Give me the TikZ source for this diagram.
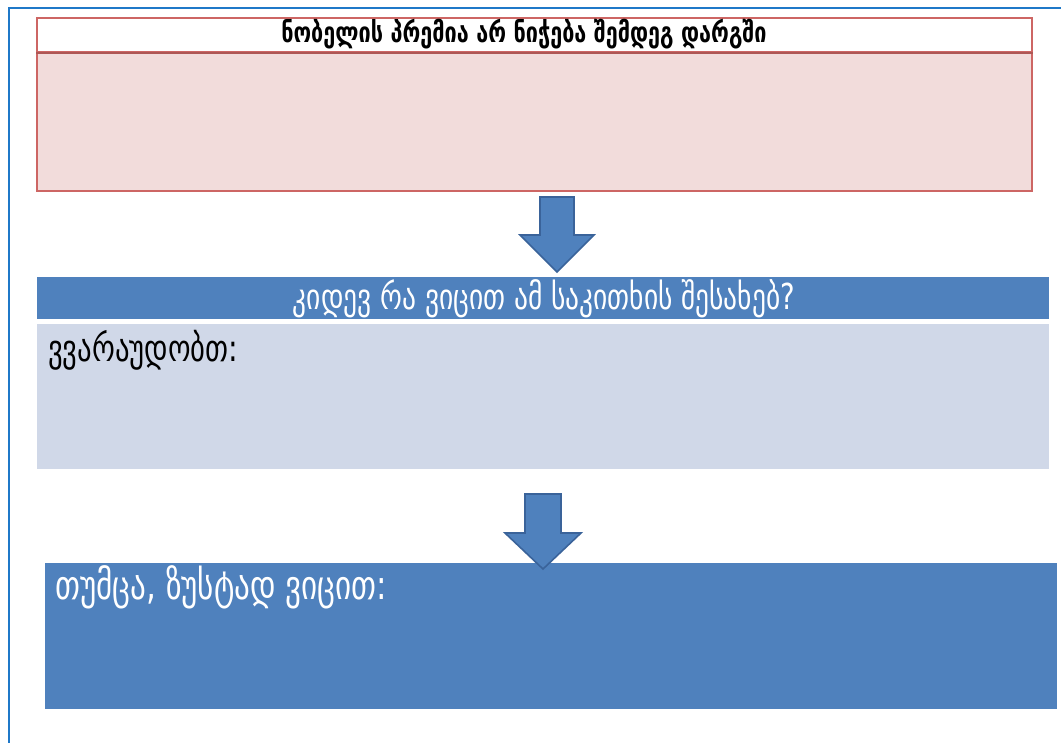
\documentclass[tikz,border=0pt]{standalone}
\usepackage{fontspec}
\newfontfamily\geo{DejaVu Sans}
\definecolor{frameblue}{HTML}{1F78C8}
\definecolor{pinkfill}{HTML}{F2DCDB}
\definecolor{redline}{HTML}{CD6664}
\definecolor{midblue}{HTML}{4F81BD}
\definecolor{darkblue}{HTML}{3A639A}
\definecolor{paleblue}{HTML}{D0D8E8}
\tikzset{
  panel/.style={rectangle, inner sep=0pt, anchor=north west},
  blockarrow/.style={fill=midblue, draw=darkblue, line width=1.2pt, line join=miter},
  lbl/.style={inner sep=0pt, font=\geo},
}
\newcommand{\tallfit}[2]{\scalebox{1}[1.3]{\resizebox{#1}{!}{#2}}}
\begin{document}
\begin{tikzpicture}[x=0.75pt,y=-0.75pt]
\useasboundingbox (0,0) rectangle (1061,743);
\fill[white] (0,0) rectangle (1061,743);
% outer frame
\draw[frameblue, line width=1.4pt] (9,743) -- (9,8) -- (1061,8);
% top red box
\node[panel, fill=pinkfill, draw=redline, line width=1.5pt, minimum width=746.25pt, minimum height=129.75pt] (redbox) at (36,17) {};
\node[panel, fill=white, draw=redline, line width=1.5pt, minimum width=746.25pt, minimum height=25.5pt] (redhead) at (36,17) {};
\draw[redline!85!black, line width=2pt] (redhead.south west) -- (redhead.south east);
\node[lbl, anchor=center] (t1) at (524,34) {\tallfit{364pt}{\bfseries ნობელის პრემია არ ნიჭება შემდეგ დარგში}};
% arrow 1
\draw[blockarrow] (540,197) -- (574,197) -- (574,235) -- (594,235) -- (557,272) -- (520,235) -- (540,235) -- cycle;
% blue header bar
\node[panel, fill=midblue, minimum width=759pt, minimum height=31.5pt] (bar) at (37,277) {};
\node[lbl, anchor=center, text=white] (t2) at (544,299) {\tallfit{376.5pt}{კიდევ რა ვიცით ამ საკითხის შესახებ?}};
% pale box
\node[panel, fill=paleblue, minimum width=759pt, minimum height=108.75pt] (pale) at (37,324) {};
\node[lbl, anchor=west] (t3) at (48,350) {\tallfit{142.5pt}{ვვარაუდობთ:}};
% bottom box
\node[panel, fill=midblue, minimum width=759pt, minimum height=109.5pt] (bottom) at (45,563) {};
\node[lbl, anchor=west, text=white] (t4) at (55,587) {\tallfit{249pt}{თუმცა, ზუსტად ვიცით:}};
% arrow 2 (drawn over the bottom box)
\draw[blockarrow] (525,494) -- (561,494) -- (561,533) -- (581,533) -- (543,569) -- (505,533) -- (525,533) -- cycle;
\end{tikzpicture}
\end{document}
